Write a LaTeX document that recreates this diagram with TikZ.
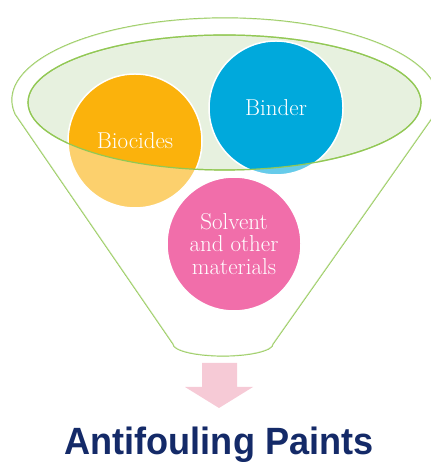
\documentclass[tikz,border=0pt]{standalone}
\usepackage{fontspec}
\usepackage{graphicx}
\usetikzlibrary{shapes.geometric}
\newfontfamily\titlefont{Liberation Sans}
\definecolor{funnelgreen}{RGB}{146,200,84}
\definecolor{rimfill}{RGB}{231,241,223}
\definecolor{biogold}{RGB}{251,178,12}
\definecolor{binderblue}{RGB}{0,169,220}
\definecolor{solvpink}{RGB}{241,110,170}
\definecolor{arrowpink}{RGB}{246,202,214}
\definecolor{titlenavy}{RGB}{20,42,104}
\newcommand\funnelpath{(15.2,347.8) arc[start angle=190,end angle=-10,x radius=213,y radius=82] -- (273,118) arc[start angle=0,end angle=-180,x radius=50,y radius=12] -- cycle}

\begin{document}
\begin{tikzpicture}[x=1pt,y=1pt,
  ball/.style={circle,draw=white,line width=1.5pt,minimum size=134pt,inner sep=0pt,text=white,align=center,font=\fontsize{23}{22.5}\selectfont},
  rim/.style={ellipse,draw=funnelgreen,line width=1.2pt,minimum width=393pt,minimum height=135pt,inner sep=0pt}]
\useasboundingbox (0,0) rectangle (430,462);

\draw[funnelgreen,line width=1.2pt,fill=white] \funnelpath;
\node[rim,fill=rimfill] (top) at (224.5,359.5) {};

\node[ball,fill=biogold] (bio) at (135,321) {Biocides};
\node[ball,fill=binderblue] (bind) at (276,354) {Binder};
\fill[white,opacity=0.4,even odd rule] \funnelpath (top.center) ellipse[x radius=196.5,y radius=67.5];
\node[rim] at (top) {};
\node[ball,fill=solvpink] (solv) at (234,218) {Solvent\\and other\\materials};

\fill[arrowpink] (202,99) -- (237,99) -- (237,75) -- (253,75) -- (219,54) -- (185,75) -- (202,75) -- cycle;
\node[font=\titlefont\bfseries\fontsize{38}{38}\selectfont,text=titlenavy,anchor=base,inner sep=0pt] (paints) at (219,8) {\scalebox{0.95}[1]{Antifouling Paints}};
\end{tikzpicture}
\end{document}
